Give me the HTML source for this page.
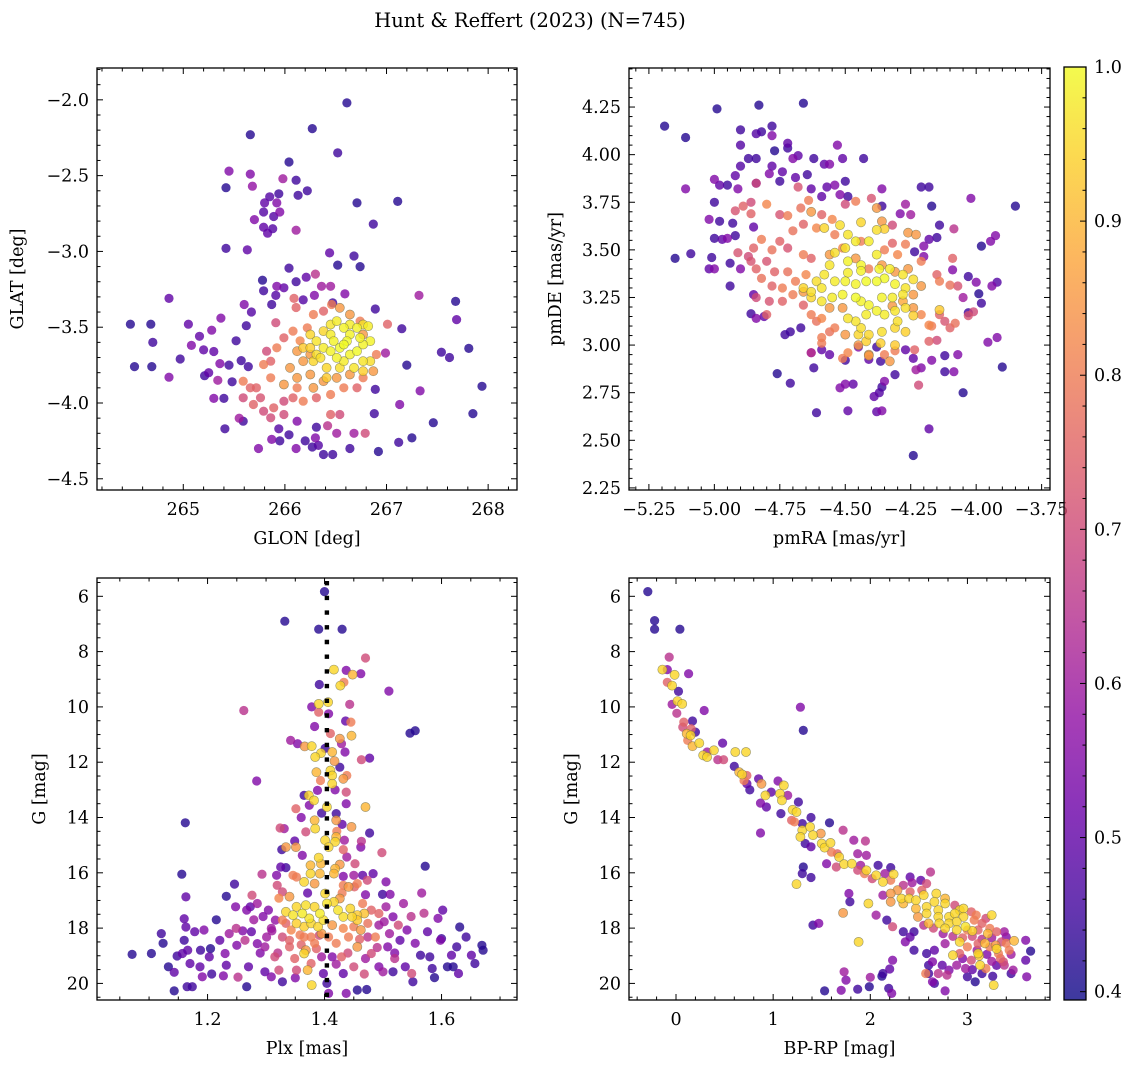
<!DOCTYPE html>
<html><head><meta charset="utf-8"><style>
body{margin:0;background:#fff;}
svg{display:block;font-family:"DejaVu Serif","Liberation Serif",serif;}
</style></head><body>
<svg id="fig" width="1136" height="1067" viewBox="0 0 1136 1067" xmlns="http://www.w3.org/2000/svg">
<text x="530" y="27" font-size="19.5" text-anchor="middle">Hunt &amp; Reffert (2023) (N=745)</text>
</svg>
<script>
// ---- data (x, y, membership probability) ----
const glonGlatStars = [
[266.61,-2.02,.42],[266.27,-2.19,.42],[265.66,-2.23,.42],[266.52,-2.35,.45],[266.04,-2.41,.42],[265.45,-2.47,.55],[265.66,-2.49,.55],[265.98,-2.52,.6],[266.11,-2.53,.45],[265.42,-2.58,.42],[265.68,-2.57,.58],[266.22,-2.60,.45],[265.94,-2.62,.45],[265.85,-2.64,.48],[266.13,-2.63,.45],[265.80,-2.68,.5],[265.92,-2.68,.55],[266.71,-2.68,.42],[267.11,-2.67,.42],[265.79,-2.74,.48],[265.95,-2.74,.55],[265.89,-2.77,.48],[265.70,-2.79,.55],[265.79,-2.84,.5],[265.88,-2.85,.48],[265.83,-2.88,.5],[266.11,-2.86,.6],[266.87,-2.82,.45],[265.42,-2.98,.45],[265.63,-2.99,.5],[266.44,-3.01,.5],[266.68,-3.03,.45],[266.52,-3.09,.42],[266.74,-3.10,.42],[266.04,-3.11,.45],[266.30,-3.15,.65],[266.21,-3.17,.5],[266.11,-3.20,.45],[265.78,-3.19,.42],[265.92,-3.23,.55],[265.99,-3.24,.5],[266.36,-3.23,.6],[266.45,-3.23,.6],[265.79,-3.26,.45],[266.29,-3.29,.55],[266.59,-3.28,.55],[267.32,-3.29,.6],[267.68,-3.33,.42],[264.86,-3.31,.5],[265.91,-3.29,.48],[266.09,-3.31,.75],[266.18,-3.32,.48],[265.60,-3.35,.55],[265.87,-3.35,.45],[266.11,-3.37,.75],[266.47,-3.34,.45],[266.89,-3.38,.45],[265.67,-3.40,.48],[267.69,-3.45,.5],[264.48,-3.48,.42],[264.68,-3.48,.42],[265.05,-3.48,.5],[265.37,-3.44,.55],[265.62,-3.49,.45],[265.91,-3.47,.7],[265.28,-3.52,.55],[265.16,-3.56,.5],[264.70,-3.60,.45],[265.52,-3.59,.45],[265.08,-3.62,.55],[265.20,-3.65,.5],[265.30,-3.66,.5],[267.01,-3.48,.75],[267.15,-3.51,.45],[267.54,-3.665,.45],[267.62,-3.70,.45],[267.81,-3.64,.42],[266.99,-3.67,.6],[264.97,-3.71,.45],[264.52,-3.76,.42],[264.69,-3.76,.42],[264.86,-3.83,.55],[267.20,-3.75,.42],[265.36,-3.74,.55],[265.45,-3.75,.45],[265.57,-3.72,.45],[265.64,-3.76,.45],[265.21,-3.82,.45],[265.25,-3.80,.5],[265.34,-3.85,.6],[265.48,-3.86,.45],[267.94,-3.89,.42],[267.33,-3.92,.55],[266.89,-3.91,.45],[265.30,-3.97,.55],[265.40,-3.97,.45],[267.13,-4.01,.55],[267.85,-4.07,.42],[267.46,-4.13,.42],[267.25,-4.23,.42],[267.12,-4.26,.45],[266.92,-4.32,.42],[266.88,-4.07,.45],[265.41,-4.17,.45],[265.74,-4.30,.55],[265.87,-4.24,.55],[265.95,-4.25,.45],[266.04,-4.21,.45],[266.11,-4.30,.55],[266.20,-4.25,.45],[266.30,-4.23,.55],[266.27,-4.29,.45],[266.33,-4.28,.48],[266.38,-4.34,.45],[266.47,-4.34,.45],[266.64,-4.30,.45],[266.51,-4.20,.6],[266.68,-4.20,.6],[266.79,-4.20,.7],[266.31,-4.16,.45],[266.42,-4.15,.65],[265.94,-4.17,.48],[266.12,-4.12,.55],[265.59,-4.12,.45],[265.55,-4.10,.6],
[265.59,-3.856,.8],[265.72,-3.90,.75],[265.79,-3.746,.8],[265.86,-3.724,.75],[265.92,-3.636,.8],[265.82,-3.658,.7],[265.99,-3.57,.75],[266.08,-3.526,.8],[266.12,-3.658,.85],[266.22,-3.504,.8],[266.28,-3.416,.8],[266.38,-3.394,.75],[266.46,-3.35,.8],[266.54,-3.372,.85],[266.64,-3.416,.85],[266.74,-3.46,.8],[266.77,-3.548,.85],[266.90,-3.68,.8],[266.87,-3.79,.85],[266.77,-3.834,.8],[266.71,-3.90,.75],[266.58,-3.90,.8],[266.45,-3.944,.8],[266.31,-3.966,.75],[266.18,-3.988,.8],[266.08,-3.966,.75],[265.99,-3.988,.7],[265.89,-4.032,.75],[265.79,-4.054,.7],[265.69,-4.01,.75],[265.59,-3.966,.7],[265.66,-3.90,.75],[265.86,-3.834,.8],[265.99,-3.878,.85],[266.12,-3.834,.85],[266.25,-3.812,.85],[266.38,-3.856,.85],[266.51,-3.834,.85],[266.64,-3.812,.85],[266.18,-3.724,.85],[266.05,-3.768,.85],[266.12,-3.90,.8],[266.28,-3.90,.85],[266.45,-4.076,.75],[266.54,-4.076,.7],[265.99,-4.076,.7],[265.86,-4.098,.7],[265.76,-3.966,.72],[266.25,-3.68,.85],[266.15,-3.59,.82],
[266.25,-3.548,.95],[266.31,-3.592,.97],[266.38,-3.526,.95],[266.45,-3.482,.97],[266.51,-3.46,.98],[266.58,-3.504,.99],[266.64,-3.482,.98],[266.71,-3.504,.99],[266.77,-3.482,.97],[266.82,-3.493,.98],[266.84,-3.592,.99],[266.77,-3.614,.99],[266.71,-3.658,1],[266.64,-3.68,.99],[266.58,-3.724,.98],[266.51,-3.702,.99],[266.45,-3.658,.99],[266.38,-3.636,.98],[266.31,-3.68,.96],[266.28,-3.724,.95],[266.41,-3.768,.95],[266.54,-3.768,.96],[266.68,-3.768,.97],[266.77,-3.724,.97],[266.84,-3.724,.96],[266.74,-3.57,.99],[266.61,-3.592,1],[266.48,-3.592,.99],[266.54,-3.636,1],[266.64,-3.548,.99],[266.45,-3.548,.98],[266.35,-3.702,.96],[266.58,-3.614,1],[266.77,-3.79,.94],[266.41,-3.834,.93],[266.25,-3.636,.94],[266.18,-3.636,.93]
];
const pmStars = [
[-5.19,4.15,.42],[-5.11,4.09,.42],[-4.99,4.24,.42],[-4.83,4.26,.42],[-4.66,4.27,.42],[-4.90,4.13,.45],[-4.84,4.11,.48],[-4.82,4.12,.45],[-4.78,4.15,.45],[-4.78,4.10,.55],[-4.90,4.05,.48],[-4.72,4.06,.5],[-4.72,4.035,.45],[-4.77,4.02,.42],[-4.70,3.98,.55],[-4.68,3.995,.5],[-4.87,3.98,.45],[-4.84,3.98,.45],[-4.62,3.98,.45],[-4.58,3.95,.5],[-4.56,3.95,.55],[-4.51,3.98,.5],[-4.43,3.98,.45],[-4.53,4.05,.55],[-4.90,3.94,.48],[-4.78,3.94,.5],[-4.74,3.91,.5],[-4.79,3.90,.55],[-4.69,3.88,.5],[-4.645,3.895,.45],[-4.75,3.86,.45],[-4.92,3.89,.5],[-5.00,3.87,.55],[-4.98,3.84,.5],[-4.95,3.84,.45],[-5.11,3.82,.55],[-4.91,3.82,.55],[-4.84,3.85,.5],[-5.00,3.75,.45],[-5.02,3.66,.55],[-4.98,3.65,.45],[-4.93,3.64,.45],[-5.00,3.56,.45],[-4.97,3.555,.5],[-4.95,3.56,.55],[-4.92,3.575,.45],[-4.85,3.62,.5],[-5.15,3.455,.42],[-5.09,3.48,.45],[-5.01,3.46,.45],[-5.02,3.40,.5],[-5.00,3.40,.55],[-4.94,3.43,.45],[-4.90,3.40,.55],[-4.94,3.31,.45],[-4.85,3.265,.5],[-4.86,3.165,.45],[-4.84,3.14,.55],[-4.81,3.15,.5],[-4.73,3.055,.45],[-4.71,3.07,.45],[-4.67,3.09,.45],[-4.63,2.96,.55],[-4.62,2.88,.45],[-4.76,2.85,.42],[-4.71,2.80,.45],[-4.61,2.645,.45],[-4.49,2.655,.5],[-4.36,2.655,.55],[-4.52,2.775,.55],[-4.50,2.795,.55],[-4.47,2.795,.5],[-4.39,2.73,.5],[-4.37,2.75,.48],[-4.36,2.78,.45],[-4.38,2.65,.5],[-4.18,2.56,.5],[-4.24,2.42,.42],[-4.05,2.75,.42],[-4.12,2.86,.45],[-4.085,2.86,.55],[-3.90,2.885,.42],[-3.92,3.04,.55],[-3.955,3.015,.55],[-3.98,3.22,.45],[-3.99,3.27,.42],[-3.94,3.31,.55],[-3.92,3.33,.48],[-4.00,3.33,.55],[-4.03,3.36,.45],[-4.03,3.17,.45],[-4.05,3.25,.6],[-4.02,3.77,.55],[-3.85,3.73,.42],[-3.926,3.575,.55],[-3.945,3.545,.55],[-3.98,3.52,.42],[-4.09,3.395,.55],[-4.085,3.61,.65],[-4.14,3.63,.45],[-4.15,3.565,.45],[-4.18,3.555,.5],[-4.20,3.52,.55],[-4.21,3.83,.45],[-4.18,3.83,.45],[-4.17,3.73,.42],[-4.36,3.82,.55],[-4.29,3.69,.55],[-4.25,3.685,.6],[-4.235,3.49,.45],[-4.20,3.465,.55],[-4.36,3.73,.45],[-4.50,3.86,.45],[-4.54,3.84,.55],[-4.57,3.83,.5],[-4.52,3.79,.55],[-4.49,3.78,.45],[-4.59,3.78,.5],[-4.63,3.82,.5],[-4.27,3.74,.6],[-4.07,2.95,.55],[-4.12,2.945,.45],[-4.17,2.92,.55],[-4.21,2.88,.55],[-4.23,2.87,.6],[-4.31,2.845,.45],[-4.365,2.915,.45],[-4.41,2.925,.5],[-4.50,2.92,.45],[-4.56,2.95,.5],[-4.63,2.96,.65],[-4.59,2.975,.5],[-4.45,2.99,.55],[-4.38,2.99,.45],[-4.27,2.975,.5],[-4.24,2.93,.5],[-4.35,2.81,.55],[-4.22,2.79,.7],
[-4.84,3.85,.7],[-4.68,3.83,.72],[-4.64,3.76,.8],[-4.80,3.74,.82],[-4.89,3.73,.75],[-4.86,3.75,.7],[-4.92,3.705,.72],[-4.86,3.69,.75],[-4.75,3.685,.72],[-4.72,3.68,.8],[-4.67,3.72,.78],[-4.63,3.70,.85],[-4.59,3.685,.75],[-4.55,3.66,.82],[-4.50,3.74,.7],[-4.46,3.755,.8],[-4.40,3.77,.72],[-4.38,3.72,.85],[-4.36,3.65,.85],[-4.32,3.63,.7],[-4.26,3.59,.85],[-4.23,3.58,.85],[-4.32,3.535,.75],[-4.27,3.53,.8],[-4.30,3.475,.82],[-4.35,3.50,.8],[-4.44,3.545,.8],[-4.54,3.58,.8],[-4.61,3.615,.82],[-4.66,3.635,.75],[-4.70,3.60,.78],[-4.75,3.545,.75],[-4.82,3.555,.8],[-4.78,3.50,.78],[-4.72,3.51,.72],[-4.66,3.475,.8],[-4.63,3.455,.75],[-4.56,3.475,.85],[-4.51,3.51,.82],[-4.46,3.455,.85],[-4.41,3.40,.8],[-4.36,3.42,.85],[-4.31,3.385,.85],[-4.26,3.40,.85],[-4.21,3.44,.8],[-4.15,3.37,.75],[-4.10,3.315,.78],[-4.07,3.31,.72],[-4.09,3.455,.75],[-4.14,3.335,.8],[-4.21,3.31,.85],[-4.24,3.265,.85],[-4.28,3.23,.88],[-4.32,3.205,.85],[-4.24,3.195,.85],[-4.21,3.16,.82],[-4.17,3.10,.8],[-4.12,3.125,.72],[-4.08,3.115,.78],[-4.03,3.155,.72],[-4.14,3.16,.75],[-4.18,3.02,.75],[-4.15,3.025,.7],[-4.235,2.975,.75],[-4.31,2.97,.8],[-4.35,2.95,.8],[-4.41,2.95,.85],[-4.45,3.00,.85],[-4.50,3.055,.85],[-4.54,3.09,.8],[-4.56,3.07,.78],[-4.59,3.04,.8],[-4.61,3.125,.78],[-4.63,3.16,.8],[-4.66,3.21,.75],[-4.70,3.265,.8],[-4.74,3.23,.75],[-4.79,3.23,.72],[-4.84,3.25,.7],[-4.82,3.35,.78],[-4.78,3.31,.75],[-4.74,3.30,.8],[-4.69,3.335,.8],[-4.65,3.37,.82],[-4.66,3.28,.85],[-4.56,3.195,.85],[-4.51,3.195,.85],[-4.59,3.14,.82],[-4.72,3.385,.78],[-4.77,3.385,.75],[-4.80,3.44,.72],[-4.84,3.40,.75],[-4.86,3.44,.72],[-4.87,3.465,.7],[-4.91,3.485,.72],[-4.85,3.51,.75],[-4.01,3.175,.7],[-4.80,3.16,.75],[-4.59,3.01,.8],[-4.49,2.96,.82],[-4.41,2.945,.85],[-4.33,2.915,.85],[-4.51,2.93,.8],[-4.18,3.105,.82],[-4.10,3.09,.75],
[-4.58,3.615,.95],[-4.52,3.63,.96],[-4.49,3.58,.97],[-4.44,3.645,.95],[-4.38,3.605,.96],[-4.35,3.61,.94],[-4.41,3.545,.98],[-4.46,3.545,.98],[-4.50,3.51,.97],[-4.54,3.485,.96],[-4.49,3.44,.99],[-4.44,3.42,.99],[-4.38,3.475,.98],[-4.37,3.40,.99],[-4.33,3.40,.98],[-4.28,3.37,.97],[-4.24,3.345,.96],[-4.27,3.30,.97],[-4.31,3.32,.99],[-4.35,3.35,1],[-4.38,3.335,1],[-4.42,3.335,1],[-4.46,3.32,.99],[-4.50,3.335,.99],[-4.54,3.335,.98],[-4.58,3.37,.97],[-4.61,3.335,.96],[-4.63,3.25,.95],[-4.59,3.23,.97],[-4.55,3.25,.98],[-4.51,3.265,.99],[-4.46,3.25,1],[-4.44,3.23,.99],[-4.41,3.21,.99],[-4.36,3.25,.99],[-4.32,3.25,.98],[-4.28,3.265,.97],[-4.27,3.195,.96],[-4.31,3.18,.97],[-4.35,3.16,.98],[-4.38,3.18,.99],[-4.42,3.16,.98],[-4.46,3.125,.97],[-4.49,3.14,.97],[-4.44,3.09,.96],[-4.41,3.055,.95],[-4.36,3.07,.96],[-4.31,3.09,.95],[-4.27,3.07,.94],[-4.30,3.125,.96],[-4.24,3.155,.94],[-4.14,3.185,.93],[-4.45,3.055,.95],[-4.365,3.01,.94],[-4.31,3.00,.93],[-4.42,3.02,.94],[-4.59,3.30,.97],[-4.66,3.30,.95],[-4.63,3.28,.96],[-4.56,3.42,.97],[-4.44,3.39,.99],[-4.49,3.38,.98]
];
const plxGStars = [
[1.40,5.83,.42],[1.332,6.90,.42],[1.39,7.19,.42],[1.43,7.19,.42],[1.47,8.23,.7],[1.416,8.65,.95],[1.437,8.68,.55],[1.462,8.80,.55],[1.448,8.83,.9],[1.433,9.11,.8],[1.427,9.23,.95],[1.391,9.19,.45],[1.51,9.43,.55],[1.262,10.13,.65],[1.378,10.0,.55],[1.39,9.89,.95],[1.406,9.83,.95],[1.443,9.91,.65],[1.39,10.19,.75],[1.407,10.25,.55],[1.436,10.51,.5],[1.445,10.55,.8],[1.383,10.71,.55],[1.546,10.95,.42],[1.555,10.86,.42],[1.342,11.21,.6],[1.354,11.33,.55],[1.446,11.04,.9],[1.41,10.96,.75],[1.426,11.15,.85],[1.401,11.5,.45],[1.366,11.43,.85],[1.378,11.42,.95],[1.394,11.67,.95],[1.413,11.63,.9],[1.429,11.33,.6],[1.435,11.63,.55],[1.417,11.96,.85],[1.384,11.81,.95],[1.463,11.91,.7],[1.477,11.85,.5],[1.426,12.18,.45],[1.284,12.68,.55],[1.386,12.36,.9],[1.41,12.30,.95],[1.413,12.48,.95],[1.432,12.6,.85],[1.438,12.48,.8],[1.393,12.66,.8],[1.413,12.78,.95],[1.373,13.2,.95],[1.365,13.2,.45],[1.388,13.02,.55],[1.418,13.0,.55],[1.437,13.08,.7],[1.437,13.5,.55],[1.382,13.38,.95],[1.374,13.56,.55],[1.351,13.68,.75],[1.404,13.62,.95],[1.47,13.62,.9],[1.395,13.84,.45],[1.42,13.86,.45],[1.36,14.0,.55],[1.383,14.1,.9],[1.384,14.4,.95],[1.42,14.1,.85],[1.43,14.25,.5],[1.162,14.19,.42],[1.324,14.38,.7],[1.331,14.40,.6],[1.368,14.52,.7],[1.421,14.5,.8],[1.446,14.34,.85],[1.477,14.56,.45],[1.42,14.70,.9],[1.401,14.82,.95],[1.418,14.88,.95],[1.434,14.82,.6],[1.349,14.85,.5],[1.351,15.07,.85],[1.334,15.07,.85],[1.463,14.86,.65],[1.462,15.07,.55],[1.498,15.27,.7],[1.327,15.16,.45],[1.407,15.07,.95],[1.432,15.16,.75],[1.362,15.37,.55],[1.39,15.45,.95],[1.438,15.43,.6],[1.325,15.79,.5],[1.334,15.81,.45],[1.376,15.73,.9],[1.394,15.67,.9],[1.418,15.85,.9],[1.426,15.70,.85],[1.452,15.67,.7],[1.156,16.05,.42],[1.572,15.76,.42],[1.293,16.05,.65],[1.318,16.09,.55],[1.346,16.09,.8],[1.352,16.15,.8],[1.376,16.03,.95],[1.392,16.03,.9],[1.416,16.03,.9],[1.432,16.13,.55],[1.45,16.09,.6],[1.465,16.09,.5],[1.483,16.03,.5],[1.473,16.27,.7],[1.505,16.33,.55],[1.246,16.41,.45],[1.319,16.45,.7],[1.365,16.33,.95],[1.383,16.39,.85],[1.432,16.45,.8],[1.451,16.51,.75],[1.456,16.39,.8],[1.232,16.85,.42],[1.163,16.87,.5],[1.276,16.81,.7],[1.328,16.69,.7],[1.371,16.73,.5],[1.401,16.75,.95],[1.43,16.73,.8],[1.47,16.79,.55],[1.499,16.78,.45],[1.512,16.78,.55],[1.566,16.73,.6],
[1.071,18.95,.42],[1.104,18.92,.42],[1.121,18.2,.45],[1.124,18.55,.42],[1.133,19.4,.42],[1.143,19.6,.5],[1.143,20.27,.42],[1.148,19.01,.45],[1.157,18.92,.5],[1.160,17.66,.5],[1.163,17.96,.5],[1.160,18.44,.45],[1.166,18.8,.5],[1.17,19.28,.5],[1.165,20.12,.45],[1.174,20.12,.45],[1.178,18.13,.5],[1.188,18.8,.45],[1.187,19.4,.5],[1.191,19.76,.55],[1.194,18.07,.55],[1.203,19.04,.5],[1.205,18.74,.42],[1.207,19.66,.45],[1.215,17.7,.42],[1.221,18.44,.5],[1.23,18.92,.55],[1.232,19.34,.5],[1.227,19.73,.55],[1.237,18.2,.6],[1.248,17.23,.55],[1.249,18.01,.65],[1.25,18.62,.55],[1.252,19.77,.65],[1.267,20.12,.42],[1.264,18.44,.65],[1.27,19.4,.5],[1.273,17.23,.5],[1.279,17.7,.6],[1.275,18.13,.5],[1.295,17.58,.55],[1.298,18.68,.6],[1.298,19.58,.5],[1.309,18.01,.6],[1.309,19.76,.55],[1.315,19.04,.7],[1.328,19.94,.45],[1.328,18.32,.7],[1.322,19.52,.7],[1.334,17.83,.75],[1.34,18.68,.75],[1.352,19.52,.7],[1.349,19.1,.75],[1.365,18.32,.8],[1.368,18.80,.85],[1.377,19.28,.75],[1.371,19.52,.9],[1.378,20.06,.95],[1.386,18.74,.75],[1.391,18.26,.7],[1.395,19.04,.6],[1.398,19.64,.5],[1.404,20.0,.45],[1.407,20.36,.55],[1.413,19.04,.55],[1.42,18.55,.8],[1.429,19.04,.75],[1.432,19.64,.5],[1.437,20.36,.55],[1.441,18.32,.8],[1.45,19.4,.7],[1.456,18.68,.85],[1.462,18.07,.85],[1.468,19.66,.7],[1.472,20.22,.42],[1.48,18.92,.7],[1.487,18.32,.8],[1.493,19.4,.55],[1.5,19.58,.6],[1.502,17.77,.6],[1.508,18.68,.55],[1.517,19.58,.45],[1.52,19.1,.65],[1.526,17.89,.7],[1.529,18.44,.5],[1.535,17.11,.6],[1.538,19.4,.5],[1.541,18.07,.55],[1.548,17.58,.65],[1.549,19.64,.7],[1.551,19.94,.45],[1.555,18.55,.55],[1.564,18.98,.45],[1.57,17.46,.65],[1.576,18.13,.5],[1.58,19.04,.45],[1.584,19.46,.45],[1.588,19.79,.42],[1.594,17.65,.55],[1.598,18.44,.55],[1.602,17.35,.5],[1.6,18.38,.45],[1.61,19.4,.42],[1.617,18.98,.5],[1.62,19.4,.42],[1.629,19.64,.5],[1.626,18.68,.45],[1.631,17.96,.42],[1.642,18.32,.45],[1.651,18.98,.5],[1.657,19.28,.45],[1.669,18.62,.42],[1.671,18.8,.42],[1.456,20.24,.42],
[1.334,17.41,.95],[1.346,17.53,.97],[1.352,17.23,.95],[1.362,17.47,.98],[1.368,17.17,.96],[1.374,17.65,.97],[1.383,17.23,.95],[1.392,17.47,.98],[1.398,17.71,.96],[1.404,17.11,.97],[1.416,17.05,.95],[1.423,17.35,.97],[1.432,17.59,.96],[1.444,17.29,.95],[1.447,17.59,.95],[1.456,17.53,.93],[1.456,17.71,.93],[1.468,17.47,.92],[1.377,17.83,.95],[1.365,17.95,.94],[1.389,17.95,.95],[1.352,17.83,.94],[1.365,18.92,.95],
[1.322,16.92,.82],[1.34,16.86,.85],[1.328,17.71,.8],[1.343,18.07,.82],[1.358,18.25,.8],[1.377,18.32,.8],[1.395,18.2,.85],[1.413,17.89,.85],[1.432,18.01,.82],[1.45,17.95,.8],[1.465,17.11,.8],[1.48,17.35,.75],[1.474,17.83,.78],[1.493,17.47,.75],[1.426,16.93,.85],[1.441,16.51,.85],[1.34,18.44,.75],[1.383,18.55,.8],[1.407,18.32,.8],
[1.267,17.35,.55],[1.285,17.11,.6],[1.304,17.35,.55],[1.316,17.71,.58],[1.301,18.32,.6],[1.285,18.56,.55],[1.505,17.23,.6],[1.517,17.59,.55],[1.493,17.89,.6],[1.474,18.32,.65],[1.511,18.2,.6],
[1.31,18.1,.6],[1.32,18.9,.65],[1.36,18.6,.75],[1.44,18.9,.7],[1.46,18.4,.75],[1.49,18.7,.65],[1.42,19.3,.6],[1.35,19.8,.55],[1.47,19.1,.6],[1.52,18.9,.55],[1.29,18.9,.55],[1.26,18.1,.55]
];
const cmdStars = [
[-0.29,5.83,.42],[-0.22,6.88,.42],[-0.22,7.19,.42],[0.04,7.19,.42],[-0.07,8.2,.65],[-0.14,8.65,.95],[-0.09,8.65,.55],[-0.015,8.84,.95],[0.13,8.8,.55],[-0.09,9.11,.75],[-0.04,9.23,.95],[0.026,9.44,.45],[-0.04,9.91,.6],[0.015,9.79,.95],[0.064,9.89,.95],[0.008,10.23,.65],[0.29,10.13,.55],[1.28,10.01,.55],[1.31,10.85,.42],[0.17,10.51,.45],[0.08,10.55,.75],[0.07,10.73,.7],[0.155,10.79,.75],[0.11,10.97,.9],[0.20,10.91,.45],[0.15,11.03,.95],[0.12,11.21,.8],[0.24,11.31,.95],[0.48,11.31,.5],[0.17,11.42,.9],[0.39,11.57,.95],[0.32,11.63,.6],[0.28,11.75,.95],[0.32,11.81,.95],[0.61,11.63,.95],[0.72,11.63,.95],[0.43,11.91,.65],[0.49,11.91,.7],[0.60,12.15,.45],[0.65,12.36,.9],[0.68,12.44,.95],[0.73,12.48,.75],[0.85,12.6,.5],[0.73,12.78,.5],[0.70,12.66,.8],[0.88,12.78,.85],[0.76,13.0,.45],[0.98,13.08,.5],[1.05,12.68,.55],[1.07,13.14,.95],[1.11,12.84,.95],[1.09,13.38,.95],[1.15,13.2,.6],[0.92,13.2,.95],[0.87,13.48,.55],[0.93,13.62,.5],[1.08,13.86,.45],[1.26,13.44,.45],[1.20,13.72,.95],[1.24,13.8,.95],[1.19,14.1,.75],[1.22,14.16,.8],[1.39,14.0,.45],[1.58,14.19,.42],[0.87,14.56,.55],[1.30,14.22,.45],[1.30,14.46,.95],[1.38,14.34,.95],[1.41,14.64,.95],[1.28,14.7,.95],[1.49,14.58,.85],[1.72,14.46,.65],[1.33,14.94,.45],[1.39,15.06,.5],[1.50,14.94,.95],[1.53,15.09,.95],[1.59,14.92,.95],[1.83,14.82,.6],[1.95,14.85,.65],[1.60,15.25,.8],[1.66,15.31,.75],[1.68,15.43,.95],[1.87,15.31,.6],[1.96,15.37,.6],[1.55,15.67,.55],[1.65,15.79,.7],[1.73,15.69,.95],[1.81,15.67,.95],[1.90,15.73,.6],[1.87,15.91,.7],[1.31,15.79,.42],[1.30,16.03,.45],[1.39,16.17,.45],[1.24,16.41,.95],[2.08,15.73,.45],[2.21,15.81,.45],[2.15,16.03,.6],[2.24,16.05,.95],[1.96,15.91,.95],[1.94,16.03,.8],[2.06,16.09,.95],[2.02,16.21,.7],[2.13,16.33,.95],[2.21,16.27,.8],[2.34,16.45,.65],[2.43,16.36,.6],[2.52,16.27,.5],[2.62,15.97,.65],[2.41,16.15,.5],[2.58,16.39,.7],[2.53,16.63,.75],[2.41,16.69,.75],[2.28,16.63,.85],[2.21,16.75,.85],[2.13,16.81,.6],[2.32,16.93,.95],[2.40,16.93,.95],[2.47,16.99,.95],[2.21,17.05,.85],[2.34,17.11,.9],[2.55,16.81,.95],[2.68,16.75,.95],[2.77,16.93,.9],[2.66,17.05,.95],[2.77,17.11,.95],[2.58,17.23,.95],[2.47,17.29,.9],[2.70,17.35,.95],[2.87,17.17,.7],[2.92,17.35,.95],[2.96,17.29,.95],[3.04,17.41,.75],[3.09,17.53,.8],[3.25,17.53,.95],[3.19,17.65,.7],[2.58,17.47,.95],[2.49,17.59,.85],[2.70,17.59,.95],[2.81,17.59,.95],[2.87,17.47,.95],[2.96,17.59,.95],[3.07,17.71,.8],[3.15,17.83,.75],[2.60,17.83,.9],[2.71,17.83,.95],[2.81,17.83,.95],[2.89,17.77,.95],[2.77,18.01,.95],[2.89,18.07,.95],[3.0,18.07,.8],[3.11,18.07,.75],[3.23,18.01,.8],[3.30,18.13,.75],[3.38,18.13,.6],[3.40,18.32,.55],[3.48,18.46,.9],[3.6,18.44,.55],[3.65,18.83,.42],[3.6,19.16,.5],[3.61,19.76,.55],[3.47,19.52,.6],[3.45,19.64,.45],[3.27,20.06,.95],[3.26,19.74,.45],[3.37,19.22,.7],[3.32,18.92,.8],[3.23,18.68,.8],[3.11,18.56,.75],[3.11,18.92,.95],[3.0,18.68,.8],[2.92,18.5,.95],[2.92,18.92,.75],[2.85,18.98,.95],[3.04,19.16,.7],[3.13,19.34,.95],[2.98,19.46,.6],[2.89,19.34,.6],[2.81,19.52,.55],[2.74,19.34,.5],[2.64,19.22,.55],[2.60,19.34,.45],[2.70,19.64,.65],[2.79,19.70,.65],[3.0,19.76,.45],[3.08,19.94,.42],[3.15,19.64,.45],[2.58,18.92,.45],[2.66,18.80,.5],[2.77,18.56,.6],[2.60,19.64,.45],[2.57,19.64,.8],[2.66,20.0,.45],[2.64,19.94,.55],[2.45,18.80,.45],[2.36,18.50,.55],[2.34,18.13,.45],[2.45,18.13,.45],[2.41,18.32,.5],[2.77,20.27,.55],[2.23,17.95,.7],[2.17,17.71,.45],[2.06,17.53,.6],[2.23,19.16,.55],[2.20,19.48,.5],[2.13,19.64,.45],[2.12,19.74,.42],[2.19,20.18,.45],[2.22,20.36,.55],[1.99,20.12,.42],[2.0,19.78,.6],[1.87,20.21,.45],[1.53,20.27,.42],[1.70,20.25,.55],[1.75,19.88,.55],[1.73,19.58,.6],[1.98,17.11,.95],[1.78,16.75,.55],[1.79,17.05,.45],[1.72,17.45,.85],[1.88,18.50,.95],[1.41,17.89,.45],[1.47,17.83,.55],[3.21,18.2,.9],[3.29,18.62,.85],[3.43,18.8,.8],[3.34,19.1,.75],[3.19,19.46,.8],[3.38,19.34,.65],
[2.95,18.35,.75],[3.05,18.3,.7],[3.15,18.4,.65],[3.25,18.35,.6],[3.35,18.5,.7],[3.1,18.8,.6],[3.2,18.95,.55],[3.3,19.35,.5],[2.95,19.1,.55],[3.05,19.5,.5],[3.25,19.2,.6],[3.45,18.95,.6],[2.85,18.3,.65],[2.75,18.2,.6],[2.65,18.0,.7],[2.55,17.9,.65],[3.18,18.55,.9],[3.05,18.1,.95],[2.98,17.95,.97],[3.3,18.75,.95],[3.12,19.0,.93],[3.4,18.55,.8]
];
const cbarTicks = [0.4,0.5,0.6,0.7,0.8,0.9,1.0];
const VMIN = 0.3946, VMAX = 1.0;

// ---- helpers ----
const NS = 'http://www.w3.org/2000/svg';
const svg = document.getElementById('fig');
function mk(tag, attrs, parent){ const e=document.createElementNS(NS,tag); for(const k in attrs) e.setAttribute(k,attrs[k]); (parent||svg).appendChild(e); return e; }
const stops=[[0,[13,8,135]],[0.1,[65,4,157]],[0.2,[106,0,168]],[0.3,[143,13,164]],[0.4,[177,42,144]],[0.5,[204,71,120]],[0.6,[225,100,98]],[0.7,[242,132,75]],[0.8,[252,166,54]],[0.9,[252,206,37]],[1,[240,249,33]]];
function plasma(t){ t=Math.max(0,Math.min(1,t)); for(let i=1;i<stops.length;i++){ if(t<=stops[i][0]){ const a=stops[i-1],b=stops[i]; const f=(t-a[0])/(b[0]-a[0]); return 'rgb('+a[1].map((v,j)=>Math.round(v+(b[1][j]-v)*f)).join(',')+')'; } } return 'rgb(240,249,33)'; }
function colorOf(p){ return plasma((p-VMIN)/(VMAX-VMIN)); }
function fmt(v,d){ return (v<0?'\u2212':'')+Math.abs(v).toFixed(d); }
const FS = 17.5;

function panel(cfg, stars, name){
  const g = mk('g',{});
  
  
  const sx = v => cfg.x0 + (v-cfg.xlo)/(cfg.xhi-cfg.xlo)*(cfg.x1-cfg.x0);
  const sy = cfg.invert ? (v => cfg.y0 + (v-cfg.ylo)/(cfg.yhi-cfg.ylo)*(cfg.y1-cfg.y0))
                        : (v => cfg.y1 - (v-cfg.ylo)/(cfg.yhi-cfg.ylo)*(cfg.y1-cfg.y0));
  const clip = mk('clipPath',{id:'clip-'+name},g);
  mk('rect',{x:cfg.x0,y:cfg.y0,width:cfg.x1-cfg.x0,height:cfg.y1-cfg.y0},clip);
  const pts = mk('g',{'clip-path':'url(#clip-'+name+')'},g);
  
  
  const sorted = stars.slice().sort((a,b)=>a[2]-b[2]);
  for(const s of sorted){
    const c = mk('circle',{cx:sx(s[0]).toFixed(1),cy:sy(s[1]).toFixed(1),r:4.6,fill:colorOf(s[2]),'fill-opacity':0.8},pts);
    if(s[2]>=0.85){ c.setAttribute('stroke','#6f6f50'); c.setAttribute('stroke-width','0.6'); c.setAttribute('stroke-opacity','0.7'); }
    
    
  }
  if(cfg.vline!==undefined){
    const l = mk('line',{x1:sx(cfg.vline),x2:sx(cfg.vline),y1:cfg.y0+3,y2:cfg.y1,stroke:'#000','stroke-width':4.4,'stroke-dasharray':'4.4 10.3'},pts);
    
    
  }
  const tk = mk('g',{stroke:'#000','stroke-width':1},g);
  const eps=1e-9;
  const xs = Math.ceil(cfg.xlo/cfg.xmn-eps);
  for(let k=xs; k*cfg.xmn<=cfg.xhi+eps; k++){
    const v=k*cfg.xmn, X=sx(v), major=Math.abs(v/cfg.xmj-Math.round(v/cfg.xmj))<1e-6, L=major?6:3.5;
    mk('line',{x1:X,x2:X,y1:cfg.y1,y2:cfg.y1-L},tk); mk('line',{x1:X,x2:X,y1:cfg.y0,y2:cfg.y0+L},tk);
    if(major){ const t=mk('text',{x:X,y:cfg.y1+25,'font-size':FS,'text-anchor':'middle',fill:'#000'},g); t.textContent=fmt(v,cfg.xd);
        }
  }
  const ys = Math.ceil(cfg.ylo/cfg.ymn-eps);
  for(let k=ys; k*cfg.ymn<=cfg.yhi+eps; k++){
    const v=k*cfg.ymn, Y=sy(v), major=Math.abs(v/cfg.ymj-Math.round(v/cfg.ymj))<1e-6, L=major?6:3.5;
    mk('line',{x1:cfg.x0,x2:cfg.x0+L,y1:Y,y2:Y},tk); mk('line',{x1:cfg.x1,x2:cfg.x1-L,y1:Y,y2:Y},tk);
    if(major){ const t=mk('text',{x:cfg.x0-8,y:Y+6,'font-size':FS,'text-anchor':'end',fill:'#000'},g); t.textContent=fmt(v,cfg.yd);
        }
  }
  const fr = mk('rect',{x:cfg.x0,y:cfg.y0,width:cfg.x1-cfg.x0,height:cfg.y1-cfg.y0,fill:'none',stroke:'#000','stroke-width':1.3},g);
  
  
  const xl = mk('text',{x:(cfg.x0+cfg.x1)/2,y:cfg.y1+54,'font-size':FS,'text-anchor':'middle'},g);
  xl.textContent = cfg.xlabel;
  
  
  const ycy=(cfg.y0+cfg.y1)/2;
  const yl = mk('text',{x:cfg.ylx,y:ycy,'font-size':FS,'text-anchor':'middle',transform:'rotate(-90 '+cfg.ylx+' '+ycy+')'},g);
  yl.textContent = cfg.ylabel;
  
  
}

panel({x0:97,x1:517,y0:68,y1:490,xlo:264.151,xhi:268.284,ylo:-4.574,yhi:-1.79,xmj:1,xmn:0.2,ymj:0.5,ymn:0.1,xd:0,yd:1,xlabel:'GLON [deg]',ylabel:'GLAT [deg]',ylx:23}, glonGlatStars, 'glon-glat-panel');
panel({x0:629,x1:1050,y0:68,y1:490,xlo:-5.326,xhi:-3.718,ylo:2.239,yhi:4.455,xmj:0.25,xmn:0.05,ymj:0.25,ymn:0.05,xd:2,yd:2,xlabel:'pmRA [mas/yr]',ylabel:'pmDE [mas/yr]',ylx:561}, pmStars, 'proper-motion-panel');
panel({x0:97,x1:517,y0:578,y1:1000,xlo:1.011,xhi:1.729,ylo:5.338,yhi:20.60,invert:true,xmj:0.2,xmn:0.05,ymj:2,ymn:0.5,xd:1,yd:0,xlabel:'Plx [mas]',ylabel:'G [mag]',ylx:45,vline:1.404}, plxGStars, 'parallax-panel');
panel({x0:629,x1:1050,y0:578,y1:1000,xlo:-0.484,xhi:3.85,ylo:5.338,yhi:20.60,invert:true,xmj:1,xmn:0.2,ymj:2,ymn:0.5,xd:0,yd:0,xlabel:'BP-RP [mag]',ylabel:'G [mag]',ylx:577}, cmdStars, 'cmd-panel');

// ---- colorbar ----
const cb = mk('g',{});


const cx0=1064, cx1=1086, cy0=67, cy1=1000;
const cby = v => cy1 - (v-VMIN)/(VMAX-VMIN)*(cy1-cy0);
const grad = mk('linearGradient',{id:'cmap',x1:0,y1:1,x2:0,y2:0},cb);
for(let i=0;i<=20;i++){ mk('stop',{offset:i/20,'stop-color':plasma(i/20)},grad); }
mk('rect',{x:cx0,y:cy0,width:cx1-cx0,height:cy1-cy0,fill:'url(#cmap)','fill-opacity':0.8},cb);
for(let k=Math.ceil(VMIN/0.02-1e-9); k*0.02<=VMAX+1e-9; k++){
  const v=k*0.02, Y=cby(v), major=Math.abs(v*10-Math.round(v*10))<1e-6;
  mk('line',{x1:cx1,x2:cx1-(major?6:3.5),y1:Y,y2:Y,stroke:'#000','stroke-width':1},cb);
}
for(const v of cbarTicks){
  const t = mk('text',{x:cx1+8,y:cby(v)+6,'font-size':FS},cb);
  t.textContent = v.toFixed(1);
  
  
}
mk('rect',{x:cx0,y:cy0,width:cx1-cx0,height:cy1-cy0,fill:'none',stroke:'#000','stroke-width':1.3},cb);
</script>
</body></html>
